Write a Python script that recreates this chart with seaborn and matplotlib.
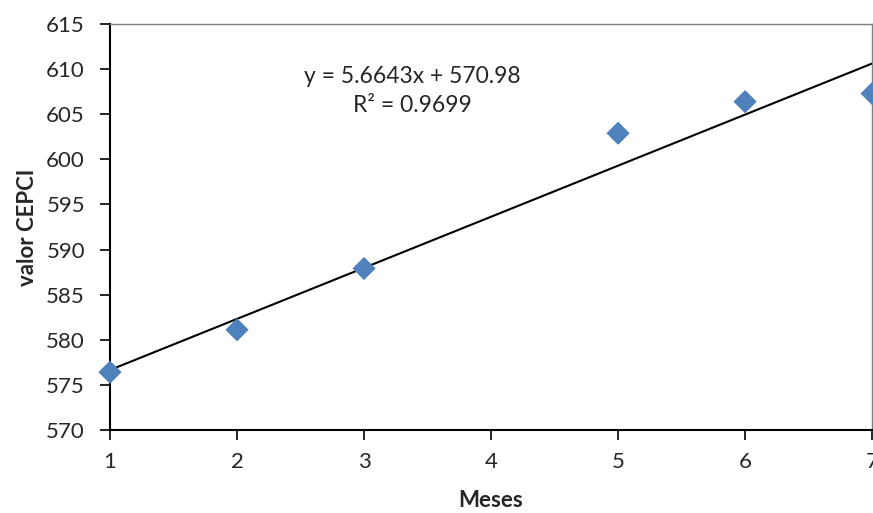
import numpy as np
import pandas as pd
import matplotlib
matplotlib.use("Agg")
import matplotlib.pyplot as plt
import seaborn as sns

meses = [1, 2, 3, 5, 6, 7]
cepci = [576.4, 581.1, 587.9, 602.9, 606.4, 607.3]
slope = 5.6643
intercept = 570.98
r2 = 0.9699

data = pd.DataFrame({"Meses": meses, "valor CEPCI": cepci})

sns.set_style("white")
plt.rcParams["font.family"] = ["Lato", "DejaVu Sans"]

fig = plt.figure(figsize=(8.73, 5.13), dpi=100)
ax = fig.add_axes([0.126, 0.162, 0.873, 0.791])

# trendline
xl = np.array([1, 7])
ax.plot(xl, slope * xl + intercept, color="black", lw=1.5, zorder=2)

sns.scatterplot(data=data, x="Meses", y="valor CEPCI", marker="D", s=140,
                color="#4F81BD", edgecolor="none", ax=ax, zorder=3, clip_on=False)

ax.set_xlim(1, 7)
ax.set_ylim(570, 615)
ax.set_xticks(range(1, 8))
ax.set_yticks(range(570, 616, 5))
ax.tick_params(axis="both", direction="out", length=7, width=1.2, labelsize=16,
               color="black", bottom=True, left=True)
ax.tick_params(axis="x", pad=9)
ax.tick_params(axis="y", pad=11)

for s in ["left", "bottom"]:
    ax.spines[s].set_color("black")
    ax.spines[s].set_linewidth(1.5)
for s in ["top", "right"]:
    ax.spines[s].set_color("#7f7f7f")
    ax.spines[s].set_linewidth(1.0)

ax.set_xlabel("Meses", fontsize=16, fontweight="bold", labelpad=13)
ax.set_ylabel("valor CEPCI", fontsize=16, fontweight="bold", labelpad=6)

ax.text(3.38, 607.6, f"y = {slope}x + {intercept}\nR² = {r2}", fontsize=16.5,
        ha="center", va="center", linespacing=1.45)

fig.savefig("out.png", dpi=100)
